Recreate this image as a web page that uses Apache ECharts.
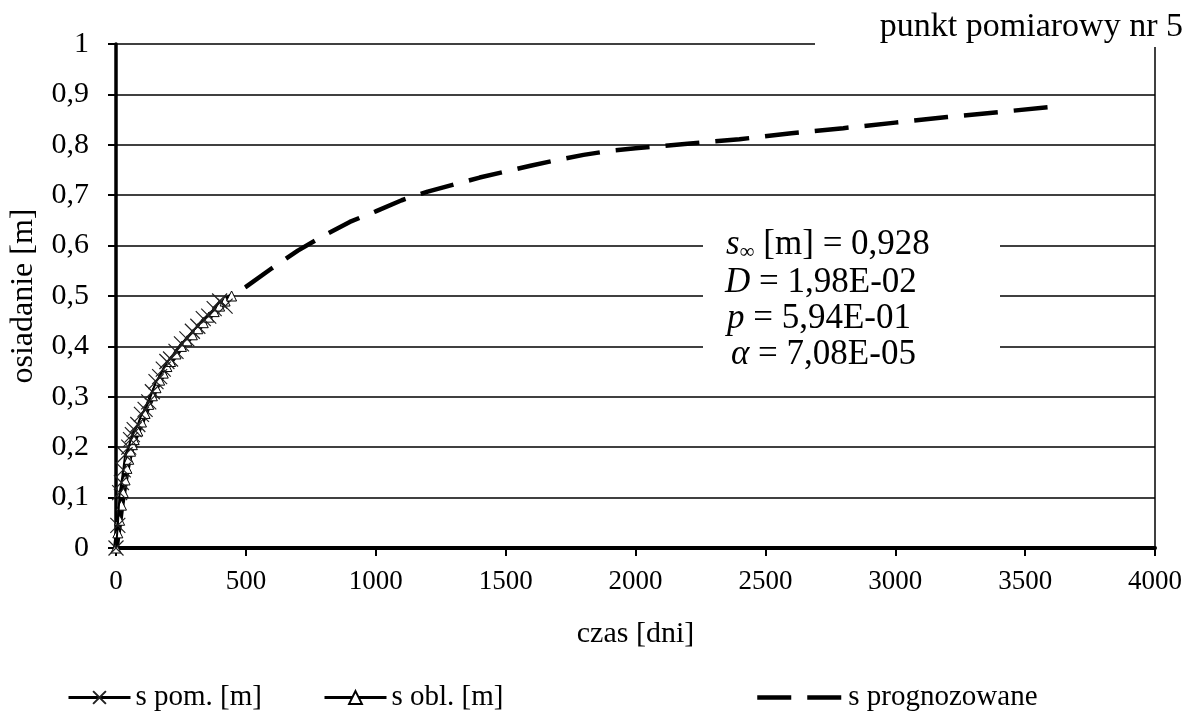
<!DOCTYPE html>
<html><head><meta charset="utf-8">
<script src="https://cdn.jsdelivr.net/npm/echarts/dist/echarts.min.js"></script>
<style>html,body{margin:0;padding:0;background:#fff}#c{width:1191px;height:714px}</style>
</head><body><div id="c"></div>
<script>
// measured settlement (s pom.)
const pomTimes  = [0, 7, 14, 21, 28, 35, 49, 56, 63, 70, 84, 98, 112, 126, 140, 154, 168, 182, 196, 210, 231, 252, 273, 294, 315, 336, 357, 378, 399, 420];
const pomValues = [0, 0.045, 0.11, 0.13, 0.155, 0.185, 0.2, 0.215, 0.225, 0.235, 0.245, 0.265, 0.275, 0.29, 0.31, 0.33, 0.34, 0.355, 0.37, 0.375, 0.39, 0.405, 0.415, 0.43, 0.44, 0.455, 0.46, 0.475, 0.49, 0.48];
// computed settlement (s obl.)
const oblTimes  = [0, 7, 14, 21, 28, 35, 42, 49, 56, 63, 70, 84, 98, 112, 126, 140, 154, 168, 182, 196, 210, 231, 252, 273, 294, 315, 336, 357, 378, 399, 420, 445];
const oblValues = [0, 0.03, 0.055, 0.085, 0.11, 0.135, 0.158, 0.176, 0.192, 0.205, 0.215, 0.232, 0.25, 0.267, 0.285, 0.302, 0.318, 0.333, 0.347, 0.36, 0.37, 0.385, 0.4, 0.411, 0.423, 0.435, 0.447, 0.458, 0.469, 0.48, 0.49, 0.5];
// forecast (s prognozowane)
const progTimes  = [445, 500, 600, 700, 800, 900, 1000, 1100, 1200, 1300, 1400, 1500, 1600, 1700, 1800, 1900, 2000, 2200, 2400, 2600, 2800, 3000, 3200, 3400, 3620];
const progValues = [0.5, 0.518, 0.555, 0.59, 0.62, 0.647, 0.668, 0.69, 0.707, 0.721, 0.735, 0.747, 0.759, 0.77, 0.78, 0.788, 0.793, 0.802, 0.811, 0.823, 0.833, 0.844, 0.855, 0.865, 0.876];
const xTickLabels = ['0', '500', '1000', '1500', '2000', '2500', '3000', '3500', '4000'];
const yTickLabels = ['0', '0,1', '0,2', '0,3', '0,4', '0,5', '0,6', '0,7', '0,8', '0,9', '1'];
const seriesNames = ['s pom. [m]', 's obl. [m]', 's prognozowane'];

const FONT = '"Liberation Serif", "Times New Roman", serif';
const chart = echarts.init(document.getElementById('c'), null, {renderer: 'canvas'});
const X_PATH = 'path://M0,0L10,10M10,0L0,10';

const legendBase = {
  top: 678, itemHeight: 16, itemWidth: 62,
  textStyle: {fontFamily: FONT, fontSize: 29, color: '#000'},
  inactiveColor: '#000'
};
const boxRich = {
  i: {fontFamily: FONT, fontStyle: 'italic', fontSize: 35, fill: '#000'},
  sub: {fontFamily: FONT, fontSize: 21, fill: '#000', padding: [14, 0, 0, 0]},
  n: {fontFamily: FONT, fontSize: 35, fill: '#000'}
};

chart.setOption({
  animation: false,
  backgroundColor: '#fff',
  grid: {left: 113, right: 36, top: 44, bottom: 166, containLabel: false},
  xAxis: {
    type: 'value', min: 0, max: 4000, interval: 500,
    name: 'czas [dni]', nameLocation: 'middle', nameGap: 71,
    nameTextStyle: {fontFamily: FONT, fontSize: 30, color: '#000'},
    axisLine: {show: true, lineStyle: {color: '#000', width: 4}},
    axisTick: {show: true, length: 8, lineStyle: {color: '#000', width: 2}},
    axisLabel: {
      fontFamily: FONT, fontSize: 27, color: '#000', margin: 20,
      formatter: v => xTickLabels[Math.round(v / 500)]
    },
    splitLine: {show: false}
  },
  yAxis: [{
    type: 'value', min: 0, max: 1, interval: 0.1,
    name: 'osiadanie [m]', nameLocation: 'middle', nameGap: 76,
    nameTextStyle: {fontFamily: FONT, fontSize: 32, color: '#000'},
    axisLine: {show: true, lineStyle: {color: '#000', width: 3.5}},
    axisTick: {show: true, length: 8, lineStyle: {color: '#000', width: 2}},
    axisLabel: {
      fontFamily: FONT, fontSize: 30, color: '#000', margin: 27,
      formatter: v => yTickLabels[Math.round(v * 10)]
    },
    splitLine: {show: true, lineStyle: {color: '#000', width: 1.6}}
  }, {
    type: 'value', min: 0, max: 1, interval: 0.1, position: 'right',
    axisLine: {show: true, lineStyle: {color: '#000', width: 1.5}},
    axisTick: {show: false}, axisLabel: {show: false}, splitLine: {show: false}
  }],
  legend: [
    Object.assign({}, legendBase, {data: [seriesNames[0]], left: 62, lineStyle: {width: 3}}),
    Object.assign({}, legendBase, {data: [seriesNames[1]], left: 318, lineStyle: {width: 3}}),
    Object.assign({}, legendBase, {data: [seriesNames[2]], left: 750, itemWidth: 86,
      lineStyle: {width: 4.5, type: [34, 16], dashOffset: 0},
      itemStyle: {color: 'rgba(0,0,0,0)', borderWidth: 0, opacity: 0}})
  ],
  graphic: [
    {type: 'rect', z: 100, shape: {x: 815, y: 0, width: 376, height: 47}, style: {fill: '#fff'}},
    {type: 'text', z: 101, x: 1183, y: 27, style: {text: 'punkt pomiarowy nr 5', font: '34px ' + FONT, fill: '#000', textAlign: 'right', textVerticalAlign: 'middle'}},
    {type: 'rect', z: 100, shape: {x: 703, y: 224, width: 297, height: 162}, style: {fill: '#fff'}},
    {type: 'text', z: 101, x: 726, y: 245, style: {text: '{i|s}{sub|∞}{n| [m] = 0,928}', textVerticalAlign: 'middle', rich: boxRich}},
    {type: 'text', z: 101, x: 725, y: 283, style: {text: '{i|D}{n| = 1,98E-02}', textVerticalAlign: 'middle', rich: boxRich}},
    {type: 'text', z: 101, x: 727, y: 319, style: {text: '{i|p}{n| = 5,94E-01}', textVerticalAlign: 'middle', rich: boxRich}},
    {type: 'text', z: 101, x: 731, y: 355, style: {text: '{i|α}{n| = 7,08E-05}', textVerticalAlign: 'middle', rich: boxRich}}
  ],
  series: [
    {
      name: seriesNames[0], type: 'line', color: '#000',
      data: pomTimes.map((t, i) => [t, pomValues[i]]),
      symbol: X_PATH, symbolSize: 15, showAllSymbol: true,
      lineStyle: {color: '#000', width: 2},
      itemStyle: {color: '#000', borderColor: '#222', borderWidth: 1.2},
      z: 3
    },
    {
      name: seriesNames[1], type: 'line', color: '#000',
      data: oblTimes.map((t, i) => [t, oblValues[i]]),
      symbol: 'triangle', symbolSize: 10, showAllSymbol: true,
      lineStyle: {color: '#000', width: 6},
      itemStyle: {color: '#fff', borderColor: '#000', borderWidth: 1},
      z: 2
    },
    {
      name: seriesNames[2], type: 'line', color: '#000',
      data: progTimes.map((t, i) => [t, progValues[i]]),
      symbol: 'none',
      lineStyle: {color: '#000', width: 4.5, type: [34, 16], dashOffset: 34},
      z: 2
    }
  ]
});
</script>
</body></html>
